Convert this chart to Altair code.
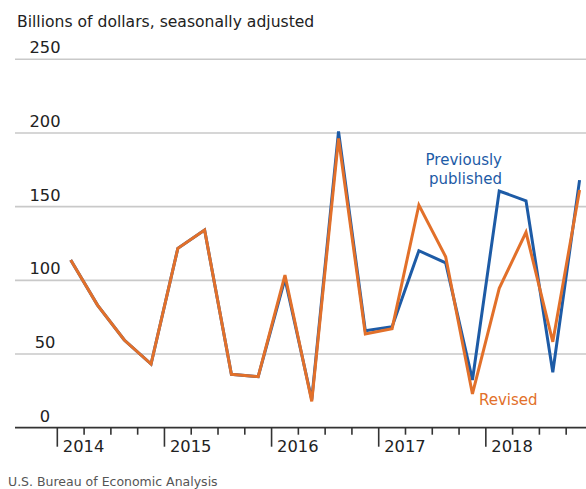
import altair as alt
import pandas as pd

quarters = ["2014Q1", "2014Q2", "2014Q3", "2014Q4",
            "2015Q1", "2015Q2", "2015Q3", "2015Q4",
            "2016Q1", "2016Q2", "2016Q3", "2016Q4",
            "2017Q1", "2017Q2", "2017Q3", "2017Q4",
            "2018Q1", "2018Q2", "2018Q3", "2018Q4"]
previously_published = [113.8, 83.2, 59.5, 43.2, 121.7, 134.1, 36.2, 34.6,
                        101.0, 19.0, 201.0, 65.8, 68.5, 120.1, 111.9, 32.4,
                        160.6, 154.0, 37.6, 168.0]
revised = [113.8, 83.2, 59.5, 43.2, 121.7, 134.1, 36.2, 34.6,
           103.6, 17.8, 196.3, 63.6, 67.2, 151.1, 116.0, 22.9,
           94.6, 132.6, 58.3, 161.3]
years = ["2014", "2015", "2016", "2017", "2018"]
y_ticks = [0, 50, 100, 150, 200, 250]

FONT = "DejaVu Sans"
BLUE = "#1d5ba6"
ORANGE = "#e2702a"
W, H = 571, 368.4

df = pd.DataFrame({
    "idx": list(range(len(quarters))) * 2,
    "quarter": quarters * 2,
    "value": previously_published + revised,
    "series": ["Previously published"] * len(quarters) + ["Revised"] * len(quarters),
})

x_scale = alt.Scale(domain=[-2.08, 19.24], nice=False, zero=False)
y_scale = alt.Scale(domain=[0, 250], nice=False)

lines = alt.Chart(df).mark_line(strokeWidth=3, strokeJoin="miter").encode(
    x=alt.X("idx:Q", scale=x_scale, axis=None),
    y=alt.Y("value:Q", scale=y_scale, axis=None),
    color=alt.Color("series:N", scale=alt.Scale(domain=["Previously published", "Revised"],
                                                range=[BLUE, ORANGE]), legend=None),
    order=alt.Order("idx:Q"),
    detail="series:N",
)

grid_df = pd.DataFrame({"v": y_ticks[1:]})
grid = alt.Chart(grid_df).mark_rule(color="#c9c9c9", strokeWidth=1.6).encode(
    y=alt.Y("v:Q", scale=y_scale, axis=None),
    x=alt.value(0), x2=alt.value(W),
)
ylab_df = pd.DataFrame({"v": y_ticks, "t": [str(v) for v in y_ticks]})
ylabels = alt.Chart(ylab_df).mark_text(font=FONT, fontSize=16.3, color="#222", align="center",
                                        baseline="alphabetic", dy=-6).encode(
    y=alt.Y("v:Q", scale=y_scale, axis=None),
    x=alt.value(30),
    text="t:N",
)

axis_line = alt.Chart(pd.DataFrame({"v": [0]})).mark_rule(color="#333", strokeWidth=1.8).encode(
    y=alt.Y("v:Q", scale=y_scale, axis=None),
    x=alt.value(0), x2=alt.value(W),
)

bounds = [i - 0.5 for i in range(len(quarters))]
tick_df = pd.DataFrame({"b": bounds, "major": [i % 4 == 0 for i in range(len(quarters))]})
minor_ticks = alt.Chart(tick_df[~tick_df["major"]]).mark_rule(color="#333", strokeWidth=1.6).encode(
    x=alt.X("b:Q", scale=x_scale, axis=None),
    y=alt.value(H), y2=alt.value(H + 7),
)
major_ticks = alt.Chart(tick_df[tick_df["major"]]).mark_rule(color="#333", strokeWidth=1.6).encode(
    x=alt.X("b:Q", scale=x_scale, axis=None),
    y=alt.value(H), y2=alt.value(H + 19),
)
year_df = pd.DataFrame({"b": [b for b, m in zip(bounds, tick_df["major"]) if m], "t": years})
year_labels = alt.Chart(year_df).mark_text(font=FONT, fontSize=16.3, color="#222", align="left",
                                           baseline="alphabetic", dx=5.5).encode(
    x=alt.X("b:Q", scale=x_scale, axis=None),
    y=alt.value(H + 24.5),
    text="t:N",
)

title = alt.Chart(pd.DataFrame({"t": ["Billions of dollars, seasonally adjusted"]})).mark_text(
    font=FONT, fontSize=15.6, color="#222", align="left", baseline="alphabetic").encode(
    x=alt.value(2), y=alt.value(-32), text="t:N")
source = alt.Chart(pd.DataFrame({"t": ["U.S. Bureau of Economic Analysis"]})).mark_text(
    font=FONT, fontSize=12.5, color="#555", align="left", baseline="alphabetic").encode(
    x=alt.value(-7), y=alt.value(426.2), text="t:N")

ann_prev = alt.Chart(pd.DataFrame({"t": [["Previously", "published"]]})).mark_text(
    font=FONT, fontSize=15, color=BLUE, align="right", baseline="alphabetic", lineHeight=19).encode(
    x=alt.value(487), y=alt.value(106), text="t")
ann_rev = alt.Chart(pd.DataFrame({"t": ["Revised"]})).mark_text(
    font=FONT, fontSize=15, color=ORANGE, align="left", baseline="alphabetic").encode(
    x=alt.value(464), y=alt.value(346), text="t:N")

chart = alt.layer(grid, axis_line, minor_ticks, major_ticks, ylabels, year_labels,
                  lines, title, source, ann_prev, ann_rev).properties(
    width=W, height=H,
    autosize=alt.AutoSizeParams(type="none"),
    padding={"left": 15, "top": 59.3, "right": 0, "bottom": 61.3},
).configure_view(stroke=None)

chart.save("out.html", embed_options={"renderer": "svg", "actions": False})
